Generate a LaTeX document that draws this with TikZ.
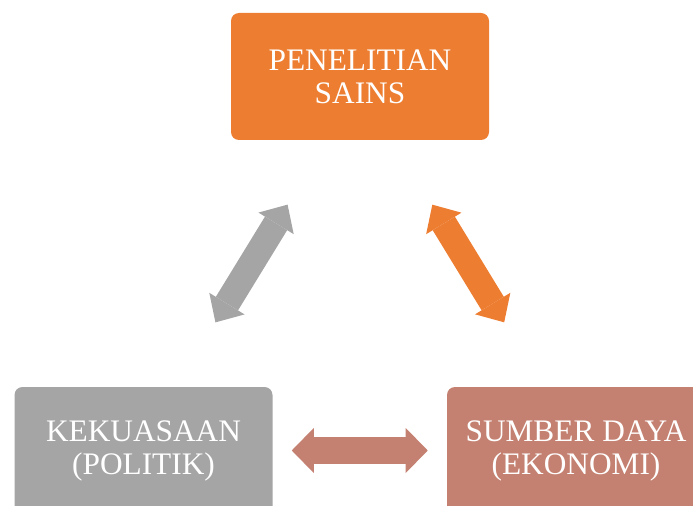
\documentclass[tikz,border=0pt]{standalone}
\usepackage{fontspec}
\setmainfont{Liberation Serif}
\usetikzlibrary{arrows.meta,calc}
\definecolor{oranye}{RGB}{237,125,49}
\definecolor{abu}{RGB}{165,165,165}
\definecolor{coklat}{RGB}{196,128,112}

\begin{document}
\begin{tikzpicture}[x=0.75pt,y=-0.75pt,
    box/.style={rounded corners=6pt,minimum width=193.5pt,minimum height=95.25pt,
        inner sep=0pt,align=center,text=white,font=\fontsize{23.5}{24.75}\selectfont},
    diag/.style={draw=#1,line width=19.5pt,
        >={Triangle[width=31pt,length=16.5pt,line width=0pt]},<->,
        shorten >=56.6pt,shorten <=56.6pt},
    flat/.style={draw=#1,line width=20.25pt,
        >={Triangle[width=33.75pt,length=16.5pt,line width=0pt]},<->,
        shorten >=14.25pt,shorten <=14.25pt}]

    \useasboundingbox (0,0) rectangle (693,506);
    \clip (0,0) rectangle (693,506);

    \node[box,fill=oranye] (sains) at (360,76.5) {PENELITIAN\\SAINS};
    \node[box,fill=abu] (kuasa) at (143.5,450.5) {KEKUASAAN\\(POLITIK)};
    \node[box,fill=coklat] (ekonomi) at (576,450.5) {SUMBER DAYA\\(EKONOMI)};

    \draw[diag=abu] ($(kuasa.north)+(32.5,0)$) -- ($(sains.south)+(-33,0)$);
    \draw[diag=oranye] ($(sains.south)+(33,0)$) -- ($(ekonomi.north)+(-32.5,0)$);
    \draw[flat=coklat] (kuasa.east) -- (ekonomi.west);

\end{tikzpicture}
\end{document}
